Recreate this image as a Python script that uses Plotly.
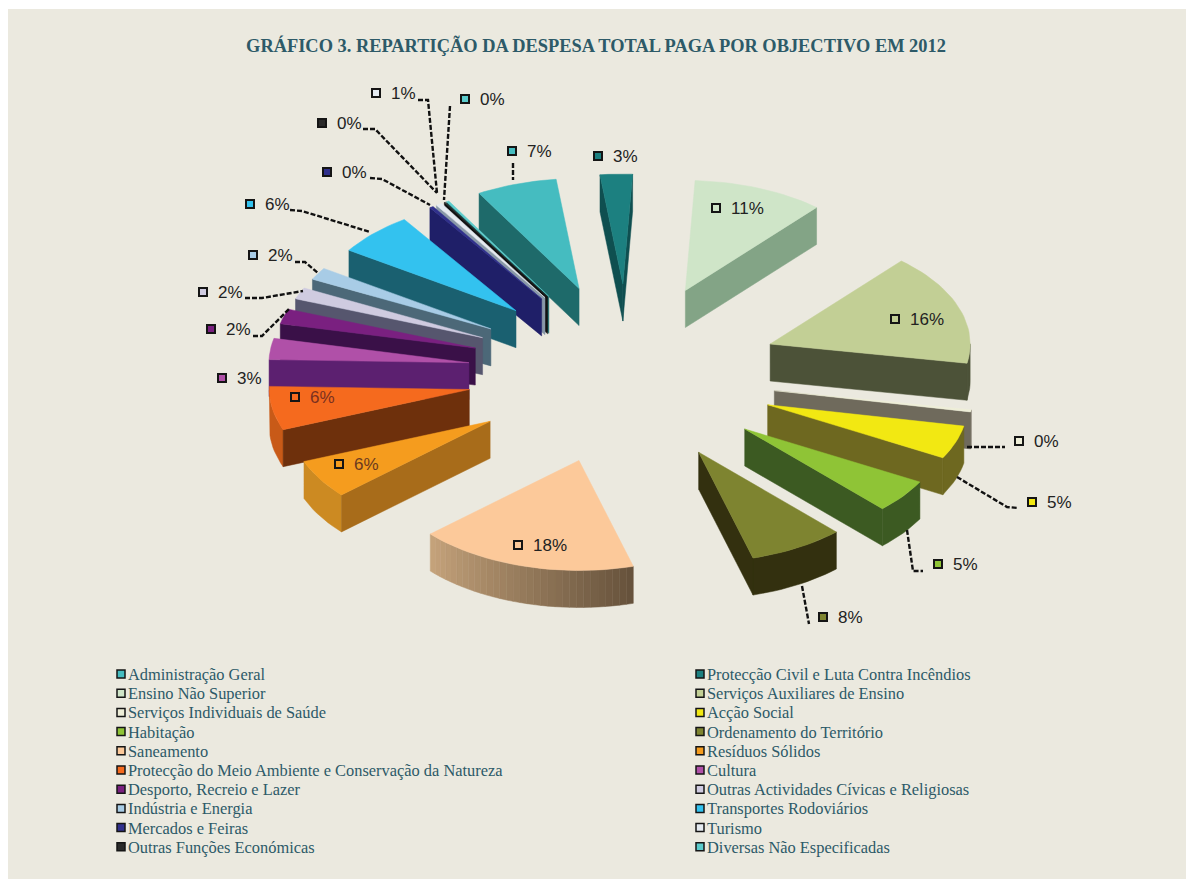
import math
import plotly.graph_objects as go

# ---- data ----
categories = ["Administração Geral", "Protecção Civil e Luta Contra Incêndios", "Ensino Não Superior",
              "Serviços Auxiliares de Ensino", "Serviços Individuais de Saúde", "Acção Social", "Habitação",
              "Ordenamento do Território", "Saneamento", "Resíduos Sólidos",
              "Protecção do Meio Ambiente e Conservação da Natureza", "Cultura", "Desporto, Recreio e Lazer",
              "Outras Actividades Cívicas e Religiosas", "Indústria e Energia", "Transportes Rodoviários",
              "Mercados e Feiras", "Turismo", "Outras Funções Económicas", "Diversas Não Especificadas"]
values = [6.5, 2.6, 10.6, 16.4, 0.3, 4.9, 4.9, 7.7, 17.7, 5.7, 6.4, 3.1, 2.2, 1.7, 1.8, 6.3, 0.3, 0.5, 0.1, 0.2]
pct_labels = ["7%", "3%", "11%", "16%", "0%", "5%", "5%", "8%", "18%", "6%", "6%", "3%", "2%", "2%", "2%",
              "6%", "0%", "1%", "0%", "0%"]

# ---- styles ----
top_colors = ["#45bcc0", "#1c8080", "#cfe5c8", "#c2cf95", "#eeeed8", "#f2e812", "#8fc436", "#7e8430", "#fcc99a",
              "#f59c1e", "#f56a1e", "#b050a8", "#7a2080", "#cfcbe0", "#a8cce6", "#33c2ef", "#30308c", "#e4eaf0",
              "#2a2a2a", "#5ccccc"]
wall_colors = ["#1e6a6a", "#0f4f50", "#83a486", "#4c5238", "#6f6a5c", "#6e6820", "#3c5a22", "#33300f", "#a88060",
               "#a86c1a", "#6e300c", "#5c2070", "#3a1048", "#56566e", "#4c6878", "#1a6070", "#1f1f68", "#8898a8",
               "#111111", "#1a6a6a"]
arc_right = ["#1e6a6a", "#0f4f50", "#83a486", "#4c5238", "#6f6a5c", "#6e6820", "#3c5a22", "#33300f", "#66523c",
             "#cc8a22", "#c85a18", "#5c2070", "#3a1048", "#56566e", "#4c6878", "#1a6070", "#1f1f68", "#8898a8",
             "#111111", "#1a6a6a"]
arc_left = ["#1e6a6a", "#0f4f50", "#83a486", "#4c5238", "#6f6a5c", "#6e6820", "#3c5a22", "#33300f", "#c4a27a",
            "#cc8a22", "#c85a18", "#5c2070", "#3a1048", "#56566e", "#4c6878", "#1a6070", "#1f1f68", "#8898a8",
            "#111111", "#1a6a6a"]
label_xy = [(512, 151), (598, 156), (716, 208), (895, 319), (1019, 441), (1032, 502), (938, 564), (823, 617),
            (518, 545), (339, 464), (295, 397), (222, 378), (211, 329), (203, 292), (253, 255), (250, 204),
            (327, 172), (376, 93), (322, 123), (465, 99)]
text_colors = ["#222222"] * 20
text_colors[9] = "#6a3a20"
text_colors[10] = "#7a3020"
leaders = [[(513, 163), (513, 180)], [(363, 129), (375, 129), (437, 193)], [(418, 100), (428, 100), (437, 193)],
           [(450, 106), (444, 200)], [(370, 178), (382, 179), (430, 205)], [(290, 210), (302, 211), (370, 232)],
           [(295, 262), (305, 262), (318, 273)], [(245, 298), (262, 298), (303, 291)],
           [(253, 336), (262, 336), (290, 308)], [(967, 447), (1005, 447)],
           [(957, 477), (1007, 507), (1018, 508)], [(907, 530), (913, 571), (923, 571)], [(802, 586), (809, 624)]]
TEAL = "#2d5a68"
CX, CY, R, K, DEPTH, EXPLODE, EXPLODE_Y, NUDGE, START = 622, 374, 200, 0.55, 37, 155, 90, 6, -30


def hex_mix(a, b, t):
    ca = [int(a[i:i + 2], 16) for i in (1, 3, 5)]
    cb = [int(b[i:i + 2], 16) for i in (1, 3, 5)]
    return "#%02x%02x%02x" % tuple(round(p + (q - p) * t) for p, q in zip(ca, cb))


def poly(fig, pts, color):
    fig.add_trace(go.Scatter(x=[p[0] for p in pts] + [pts[0][0]], y=[p[1] for p in pts] + [pts[0][1]],
                             mode="lines", fill="toself", fillcolor=color, line=dict(color=color, width=0.5),
                             hoverinfo="skip"))


def down(p):
    return (p[0], p[1] + DEPTH)


fig = go.Figure()
total = sum(values)
wedges = []
cum = 0
for i, v in enumerate(values):
    a0 = START + 360 * cum / total
    a1 = START + 360 * (cum + v) / total
    cum += v
    wedges.append((i, a0, a1))


def pt(ax, ay, ang):
    r = math.radians(ang)
    return (ax + R * math.sin(r), ay - R * K * math.cos(r))


def apex(a0, a1):
    m = math.radians((a0 + a1) / 2)
    return (CX + EXPLODE * math.sin(m) + NUDGE * max(0, math.cos(m)), CY - EXPLODE_Y * math.cos(m))


order = sorted(wedges, key=lambda w: apex(w[1], w[2])[1] + 0.15 * pt(*apex(w[1], w[2]), (w[1] + w[2]) / 2)[1])
for i, a0, a1 in order:
    ap = apex(a0, a1)
    n = max(3, int((a1 - a0) / 2))
    arc = [a0 + (a1 - a0) * j / n for j in range(n + 1)]
    pts = [pt(*ap, a) for a in arc]
    # outer wall, visible where the rim faces the viewer
    vis = [j for j in range(n) if math.cos(math.radians((arc[j] + arc[j + 1]) / 2)) < 0]
    if vis and arc_left[i] == arc_right[i]:
        rim = [pts[j] for j in vis] + [pts[vis[-1] + 1]]
        poly(fig, rim + [down(p) for p in reversed(rim)], arc_left[i])
    else:
        for j in vis:
            mid = (arc[j] + arc[j + 1]) / 2
            t = min(1, max(0, (mid - 165) / 62))
            poly(fig, [pts[j], pts[j + 1], down(pts[j + 1]), down(pts[j])], hex_mix(arc_right[i], arc_left[i], t))
    if math.sin(math.radians(a0)) < 0:
        poly(fig, [ap, pts[0], down(pts[0]), down(ap)], wall_colors[i])
    if math.sin(math.radians(a1)) > 0:
        poly(fig, [ap, pts[-1], down(pts[-1]), down(ap)], wall_colors[i])
    poly(fig, [ap] + pts, top_colors[i])

for seg in leaders:
    fig.add_trace(go.Scatter(x=[p[0] for p in seg], y=[p[1] for p in seg], mode="lines",
                             line=dict(color="#111111", width=2.4, dash="5px,2px"), hoverinfo="skip"))

# data labels
fig.add_trace(go.Scatter(x=[p[0] for p in label_xy], y=[p[1] for p in label_xy], mode="markers",
                         marker=dict(symbol="square", size=8, color=top_colors,
                                     line=dict(color="#151515", width=2)), hoverinfo="skip"))
fig.add_trace(go.Scatter(x=[p[0] + 15 for p in label_xy], y=[p[1] + 2 for p in label_xy], mode="text",
                         text=pct_labels, textposition="middle right",
                         textfont=dict(family="Liberation Sans", size=17, color=text_colors), hoverinfo="skip"))

# legend, read across two columns
leg_x = [121 if k % 2 == 0 else 700 for k in range(len(categories))]
leg_y = [674 + 19.2 * (k // 2) for k in range(len(categories))]
fig.add_trace(go.Scatter(x=leg_x, y=leg_y, mode="markers",
                         marker=dict(symbol="square", size=8, color=top_colors,
                                     line=dict(color="#151515", width=1.5)), hoverinfo="skip"))
fig.add_trace(go.Scatter(x=[x + 7 for x in leg_x], y=[y + 2 for y in leg_y], mode="text", text=categories,
                         textposition="middle right",
                         textfont=dict(family="Liberation Serif", size=16.4, color=TEAL), hoverinfo="skip"))

fig.update_layout(
    width=1186, height=879, margin=dict(l=0, r=0, t=0, b=0), showlegend=False, paper_bgcolor="white",
    plot_bgcolor="white", hovermode=False,
    title=dict(text="<b>GRÁFICO 3. REPARTIÇÃO DA DESPESA TOTAL PAGA POR OBJECTIVO EM 2012</b>",
               x=596 / 1186, y=1 - 46 / 879, xanchor="center", yanchor="middle",
               font=dict(family="Liberation Serif", size=18.4, color=TEAL)),
    xaxis=dict(range=[0, 1186], visible=False, fixedrange=True),
    yaxis=dict(range=[879, 0], visible=False, fixedrange=True),
    shapes=[dict(type="rect", xref="x", yref="y", x0=8, x1=1186, y0=9, y1=879, fillcolor="#ebe9df",
                 line=dict(width=0), layer="below")],
)
fig.write_html("out.html", config=dict(displayModeBar=False),
               post_script="document.body.style.margin='0';document.documentElement.style.overflow='hidden';")
